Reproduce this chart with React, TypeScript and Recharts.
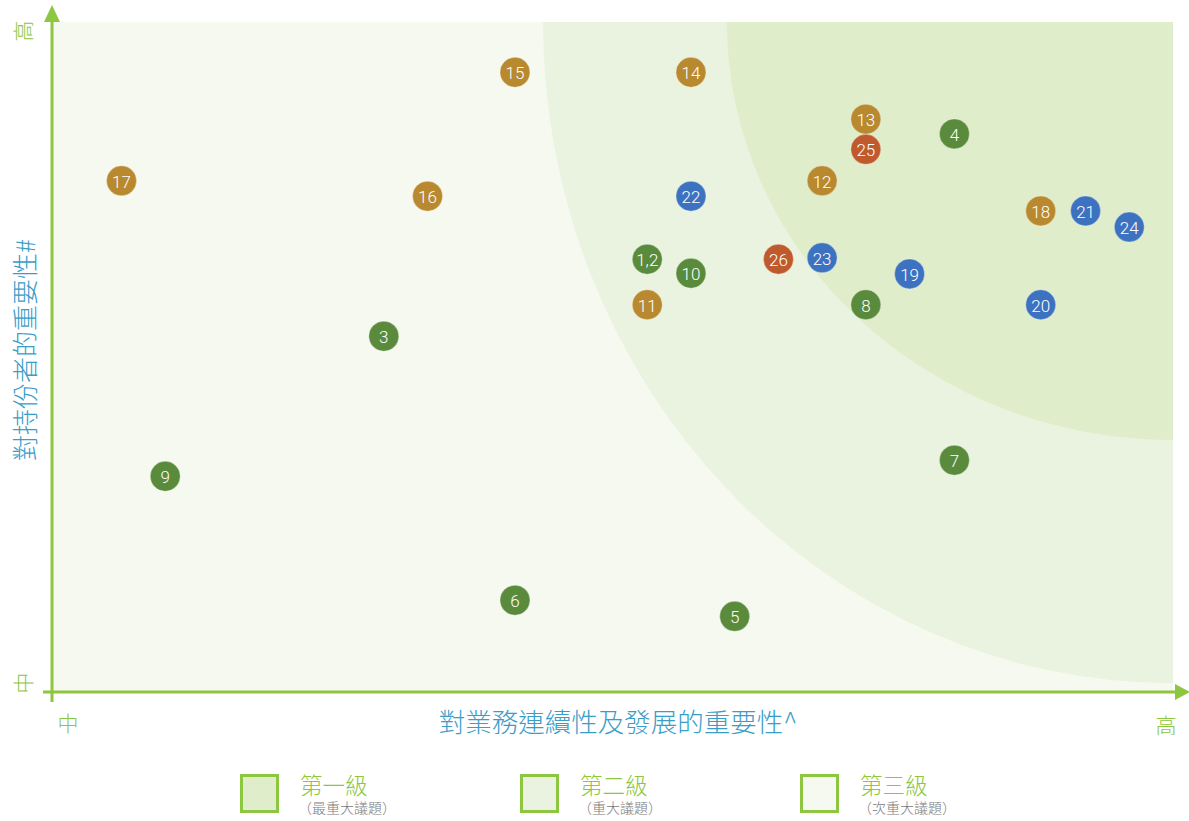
import React from 'react';
import { ScatterChart, Scatter, XAxis, YAxis, ReferenceArea, ReferenceLine, ReferenceDot } from 'recharts';

// issue numbers and their positions (0-100 on both axes)
const labels = ['1,2', '3', '4', '5', '6', '7', '8', '9', '10', '11', '12', '13', '14', '15', '16', '17', '18', '19', '20', '21', '22', '23', '24', '25', '26'];
const xValues = [53.1, 29.6, 80.5, 60.9, 41.3, 80.5, 72.6, 10.1, 57.0, 53.1, 68.7, 72.6, 57.0, 41.3, 33.5, 6.2, 88.2, 76.5, 88.2, 92.2, 57.0, 68.7, 96.1, 72.6, 64.8];
const yValues = [64.6, 53.1, 83.3, 11.3, 13.7, 34.6, 57.8, 32.2, 62.5, 57.8, 76.3, 85.5, 92.5, 92.5, 74.0, 76.3, 71.8, 62.4, 57.8, 71.8, 74.0, 64.8, 69.4, 81.0, 64.6];
const groups = ['green', 'green', 'green', 'green', 'green', 'green', 'green', 'green', 'green', 'gold', 'gold', 'gold', 'gold', 'gold', 'gold', 'gold', 'gold', 'blue', 'blue', 'blue', 'blue', 'blue', 'blue', 'red', 'red'];

const groupNames = ['green', 'gold', 'blue', 'red'];
const groupColors = ['#5a8a3c', '#b8892f', '#3c72bf', '#bf5a2c'];

// materiality zones (start of each quarter-ellipse)
const zoneStartX = [60.2, 43.8];
const zoneStartY = [37.6, 1.3];
const zoneColors = ['#dfedcb', '#eaf3df', '#f6f9f0'];

const levelNames = ['第一級', '第二級', '第三級'];
const levelNotes = ['最重大議題', '重大議題', '次重大議題'];

const AXIS_GREEN = '#8dc63f';
const CJK = '"Noto Sans CJK TC", "Noto Sans", sans-serif';

const points = labels.map((label, i) => ({ label, x: xValues[i], y: yValues[i], group: groups[i] }));

const Bubble = (props: any) => {
  const { cx, cy, fill, payload } = props;
  return (
    <g>
      <circle cx={cx} cy={cy} r={15} fill={fill} stroke="#ffffff" strokeOpacity={0.35} strokeWidth={1} />
      <text x={cx} y={cy + 1} textAnchor="middle" dominantBaseline="central" fill="#ffffff"
        style={{ fontFamily: 'Roboto, sans-serif', fontWeight: 300, fontSize: 17 }}>
        {payload.label}
      </text>
    </g>
  );
};

const zoneShape = (color: string) => (props: any) => {
  const { x, y, width, height } = props;
  const d = `M${x + width},${y} L${x},${y} A${width},${height} 0 0 0 ${x + width},${y + height} Z`;
  return <path d={d} fill={color} />;
};

const ArrowRight = (props: any) => {
  const { cx, cy } = props;
  return <polygon points={`${cx + 2},${cy - 8} ${cx + 17},${cy} ${cx + 2},${cy + 8}`} fill={AXIS_GREEN} />;
};

const ArrowUp = (props: any) => {
  const { cx, cy } = props;
  return <polygon points={`${cx - 8},${cy} ${cx},${cy - 17} ${cx + 8},${cy}`} fill={AXIS_GREEN} />;
};

const abs = (left: number, top: number, extra: React.CSSProperties = {}): React.CSSProperties => ({
  position: 'absolute', left, top, transform: 'translate(-50%, -50%)', whiteSpace: 'nowrap', fontFamily: CJK, ...extra,
});

const paren: React.CSSProperties = { display: 'inline-block', width: 14 };

export default function App() {
  return (
    <div style={{ position: 'absolute', left: 0, top: 0, width: 1189, height: 821, background: '#ffffff' }}>
      <ScatterChart width={1189} height={740} margin={{ top: 22, right: 16, bottom: 48, left: 52 }}>
        <XAxis type="number" dataKey="x" domain={[0, 100]} hide />
        <YAxis type="number" dataKey="y" domain={[0, 100]} hide />
        <ReferenceArea x1={0} x2={100} y1={0} y2={100} fill={zoneColors[2]} fillOpacity={1} stroke="none" />
        <ReferenceArea x1={zoneStartX[1]} x2={100} y1={zoneStartY[1]} y2={100} shape={zoneShape(zoneColors[1])} />
        <ReferenceArea x1={zoneStartX[0]} x2={100} y1={zoneStartY[0]} y2={100} shape={zoneShape(zoneColors[0])} />
        <ReferenceLine segment={[{ x: -0.8, y: 0 }, { x: 100.3, y: 0 }]} stroke={AXIS_GREEN} strokeWidth={3} ifOverflow="visible" />
        <ReferenceLine segment={[{ x: 0, y: -1.5 }, { x: 0, y: 100 }]} stroke={AXIS_GREEN} strokeWidth={3} ifOverflow="visible" />
        <ReferenceDot x={100} y={0} ifOverflow="visible" shape={ArrowRight} />
        <ReferenceDot x={0} y={100} ifOverflow="visible" shape={ArrowUp} />
        {groupNames.map((g, i) => (
          <Scatter key={g} name={g} data={points.filter((p) => p.group === g)} fill={groupColors[i]}
            shape={Bubble} isAnimationActive={false} />
        ))}
      </ScatterChart>

      <div style={abs(618, 720, { fontSize: 26.5, color: '#3a9dc8', fontWeight: 300 })}>對業務連續性及發展的重要性^</div>
      <div style={abs(23, 350, { fontSize: 26, color: '#3a9dc8', fontWeight: 300, transform: 'translate(-50%, -50%) rotate(-90deg)' })}>對持份者的重要性#</div>
      <div style={abs(68, 722, { fontSize: 21, color: AXIS_GREEN, fontWeight: 300 })}>中</div>
      <div style={abs(1166, 724, { fontSize: 21, color: AXIS_GREEN, fontWeight: 300 })}>高</div>
      <div style={abs(22, 31, { fontSize: 21, color: AXIS_GREEN, fontWeight: 300, transform: 'translate(-50%, -50%) rotate(-90deg)' })}>高</div>
      <div style={abs(22, 683, { fontSize: 21, color: AXIS_GREEN, fontWeight: 300, transform: 'translate(-50%, -50%) rotate(-90deg)' })}>中</div>

      {levelNames.map((name, i) => (
        <div key={name}>
          <div style={{ position: 'absolute', left: 240 + i * 280, top: 774, width: 39, height: 39, boxSizing: 'border-box',
            border: `3px solid ${AXIS_GREEN}`, background: zoneColors[i] }} />
          <div style={{ position: 'absolute', left: 300 + i * 280, top: 773, fontFamily: CJK, fontSize: 22.5, lineHeight: '23px',
            color: AXIS_GREEN, fontWeight: 300, whiteSpace: 'nowrap' }}>{name}</div>
          <div style={{ position: 'absolute', left: 298 + i * 280, top: 800, fontFamily: CJK, fontSize: 14, lineHeight: '14px',
            color: '#7a7a7a', fontWeight: 300, whiteSpace: 'nowrap' }}>
            <span style={{ ...paren, textAlign: 'right' }}>（</span>{levelNotes[i]}<span style={{ ...paren, textAlign: 'left' }}>）</span>
          </div>
        </div>
      ))}
    </div>
  );
}
